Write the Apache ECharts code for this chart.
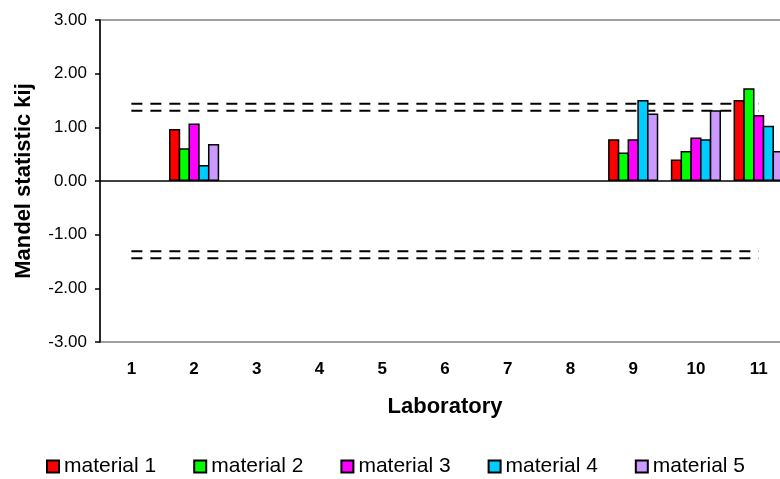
<!DOCTYPE html>
<html>
<head>
<meta charset="utf-8">
<script src="https://cdn.jsdelivr.net/npm/echarts@6/dist/echarts.min.js"></script>
<style>
  html, body { margin: 0; padding: 0; background: #fff; }
  #chart { width: 780px; height: 479px; }
</style>
</head>
<body>
<div id="chart"></div>
<script>
// Laboratories on the category axis
const labs = ['1', '2', '3', '4', '5', '6', '7', '8', '9', '10', '11'];

// Mandel k statistic per laboratory and material (null = no result)
const material1 = [null, 0.97, null, null, null, null, null, null, 0.78, 0.40, 1.51];
const material2 = [null, 0.61, null, null, null, null, null, null, 0.53, 0.56, 1.73];
const material3 = [null, 1.07, null, null, null, null, null, null, 0.78, 0.81, 1.23];
const material4 = [null, 0.30, null, null, null, null, null, null, 1.51, 0.78, 1.03];
const material5 = [null, 0.69, null, null, null, null, null, null, 1.26, 1.32, 0.56];

// Critical values (5 % and 1 %) drawn as dashed reference lines
const critical5 = 1.31;
const critical1 = 1.44;

const seriesNames = ['material 1', 'material 2', 'material 3', 'material 4', 'material 5'];
const seriesData = [material1, material2, material3, material4, material5];
const seriesColors = ['#ff0000', '#00ff00', '#ff00ff', '#00ccff', '#cc99ff'];

const FONT = 'Liberation Sans, Arial, sans-serif';

// Adjacent bars overlap by one border width so neighbours share an outline
const barSeries = seriesNames.map((name, i) => ({
  name: name,
  type: 'bar',
  data: seriesData[i],
  barWidth: 11.2,
  barGap: '-13%',
  itemStyle: { color: seriesColors[i], borderColor: '#000', borderWidth: 1.5 },
  z: 3
}));

// Horizontal line through zero
barSeries[0].markLine = {
  silent: true,
  symbol: 'none',
  label: { show: false },
  lineStyle: { color: '#000', width: 1.5, type: 'solid' },
  data: [{ yAxis: 0 }]
};

const limitLine = (value) => ({
  type: 'line',
  data: labs.map(() => value),
  symbol: 'none',
  silent: true,
  lineStyle: { color: '#000', width: 2, type: [11, 8] },
  z: 2
});

const chart = echarts.init(document.getElementById('chart'), null, { renderer: 'canvas' });
chart.setOption({
  animation: false,
  textStyle: { fontFamily: FONT },
  grid: {
    left: 100, top: 20, right: -10, bottom: 137,
    outerBoundsMode: 'none',
    containLabel: false,
    show: true, borderColor: '#a0a0a0', borderWidth: 2, backgroundColor: 'transparent'
  },
  legend: {
    data: seriesNames,
    top: 456,
    left: 46,
    padding: 0,
    itemWidth: 12,
    itemHeight: 12,
    itemGap: 37,
    icon: 'rect',
    textStyle: { fontFamily: FONT, fontSize: 21, color: '#000' }
  },
  xAxis: {
    type: 'category',
    data: labs,
    axisLine: { show: false },
    axisTick: { show: false },
    axisLabel: { fontFamily: FONT, fontSize: 17, fontWeight: 'bold', color: '#000', margin: 19 },
    name: 'Laboratory',
    nameLocation: 'middle',
    nameGap: 54,
    nameTextStyle: { fontFamily: FONT, fontSize: 22, fontWeight: 'bold', color: '#000' }
  },
  yAxis: {
    type: 'value',
    min: -3,
    max: 3,
    interval: 1,
    axisLine: { show: true, lineStyle: { color: '#000', width: 1.5 } },
    axisTick: { show: true, length: 5, lineStyle: { color: '#000', width: 1.5 } },
    splitLine: { show: false },
    axisLabel: {
      fontFamily: FONT, fontSize: 17, color: '#000', margin: 13,
      formatter: (v) => v.toFixed(2)
    },
    name: 'Mandel statistic kij',
    nameLocation: 'middle',
    nameGap: 65,
    nameTextStyle: { fontFamily: FONT, fontSize: 22, fontWeight: 'bold', color: '#000' }
  },
  series: barSeries.concat([
    limitLine(critical1),
    limitLine(critical5),
    limitLine(-critical5),
    limitLine(-critical1)
  ])
});
</script>
</body>
</html>
